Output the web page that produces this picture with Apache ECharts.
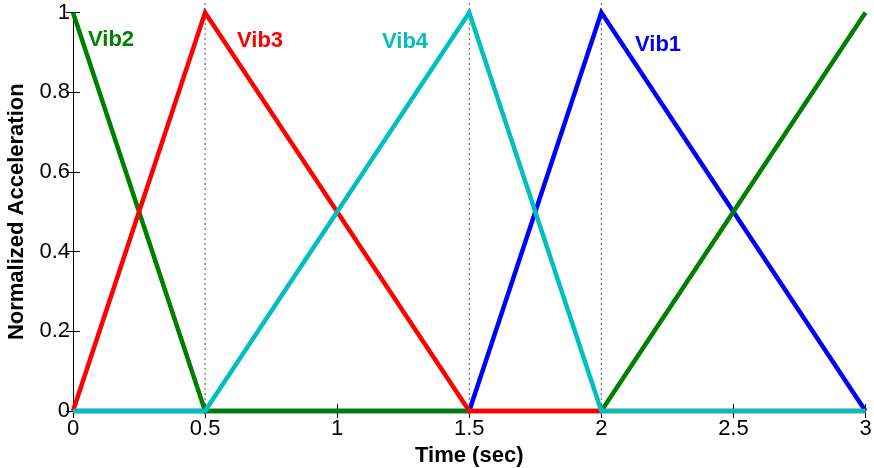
<!DOCTYPE html>
<html>
<head>
<meta charset="utf-8">
<script src="https://cdn.jsdelivr.net/npm/echarts@6/dist/echarts.min.js"></script>
<style>
  html, body { margin: 0; padding: 0; background: #fff; }
  #chart { width: 874px; height: 468px; }
</style>
</head>
<body>
<div id="chart"></div>
<script>
// Time breakpoints (sec) shared by all profiles
const times = [0, 0.5, 1.5, 2, 3];
// Normalized acceleration of each vibrator at those breakpoints
const vib1 = [0, 0, 0, 1, 0];
const vib2 = [1, 0, 0, 0, 1];
const vib3 = [0, 1, 0, 0, 0];
const vib4 = [0, 0, 1, 0, 0];
// Switching instants marked with dotted guides
const switchTimes = [0.5, 1.5, 2];

const FONT = '"Liberation Sans", Arial, Helvetica, sans-serif';

function pairs(vals) {
  return times.map((t, i) => [t, vals[i]]);
}

const profiles = [
  { name: 'Vib1', data: vib1, color: '#0000ff' },
  { name: 'Vib2', data: vib2, color: '#008000' },
  { name: 'Vib3', data: vib3, color: '#ff0000' },
  { name: 'Vib4', data: vib4, color: '#00bfbf' }
];

const guideSeries = switchTimes.map(t => ({
  type: 'line',
  data: [[t, -0.01], [t, 1.03]],
  clip: false,
  symbol: 'none',
  silent: true,
  z: 1,
  lineStyle: { color: '#555', width: 1, type: [2, 3] }
}));

const profileSeries = profiles.map((p, i) => ({
  name: p.name,
  type: 'line',
  data: pairs(p.data),
  symbol: 'none',
  clip: false,
  z: 2 + i,
  lineStyle: { color: p.color, width: 4.5, join: 'miter' }
}));

const tickStyle = { inside: true, length: 7, lineStyle: { color: '#000', width: 1 } };

const chart = echarts.init(document.getElementById('chart'));
chart.setOption({
  animation: false,
  backgroundColor: '#fff',
  grid: { left: 73, right: 8.5, top: 12.5, bottom: 57, outerBoundsMode: 'none', containLabel: false },
  xAxis: [
    {
      type: 'value', min: 0, max: 3, interval: 0.5,
      name: 'Time (sec)', nameLocation: 'middle', nameGap: 29,
      nameTextStyle: { fontFamily: FONT, fontSize: 22, fontWeight: 'bold', color: '#000' },
      axisLine: { show: true, lineStyle: { color: '#000', width: 1 } },
      axisTick: tickStyle,
      axisLabel: { fontFamily: FONT, fontSize: 22, color: '#000', margin: 7,
        formatter: v => String(v) },
      splitLine: { show: false }
    },
    {
      type: 'value', position: 'top', min: 0, max: 3, interval: 0.5,
      axisLine: { show: true, lineStyle: { color: '#000', width: 1 } },
      axisTick: tickStyle,
      axisLabel: { show: false },
      splitLine: { show: false }
    }
  ],
  yAxis: [
    {
      type: 'value', min: 0, max: 1, interval: 0.2,
      name: 'Normalized Acceleration', nameLocation: 'middle', nameGap: 45,
      nameTextStyle: { fontFamily: FONT, fontSize: 22, fontWeight: 'bold', color: '#000' },
      axisLine: { show: true, lineStyle: { color: '#000', width: 1 } },
      axisTick: tickStyle,
      axisLabel: { fontFamily: FONT, fontSize: 22, color: '#000', margin: 3,
        formatter: v => String(v) },
      splitLine: { show: false }
    },
    {
      type: 'value', position: 'right', min: 0, max: 1, interval: 0.2,
      axisLine: { show: true, lineStyle: { color: '#000', width: 1 } },
      axisTick: tickStyle,
      axisLabel: { show: false },
      splitLine: { show: false }
    }
  ],
  graphic: [
    { type: 'text', left: 88, top: 29, style: { text: 'Vib2', fill: '#008000', font: 'bold 22px ' + FONT } },
    { type: 'text', left: 237, top: 30, style: { text: 'Vib3', fill: '#ff0000', font: 'bold 22px ' + FONT } },
    { type: 'text', left: 382, top: 31, style: { text: 'Vib4', fill: '#00bfbf', font: 'bold 22px ' + FONT } },
    { type: 'text', left: 635, top: 34, style: { text: 'Vib1', fill: '#0000ff', font: 'bold 22px ' + FONT } }
  ],
  series: guideSeries.concat(profileSeries)
});
</script>
</body>
</html>
